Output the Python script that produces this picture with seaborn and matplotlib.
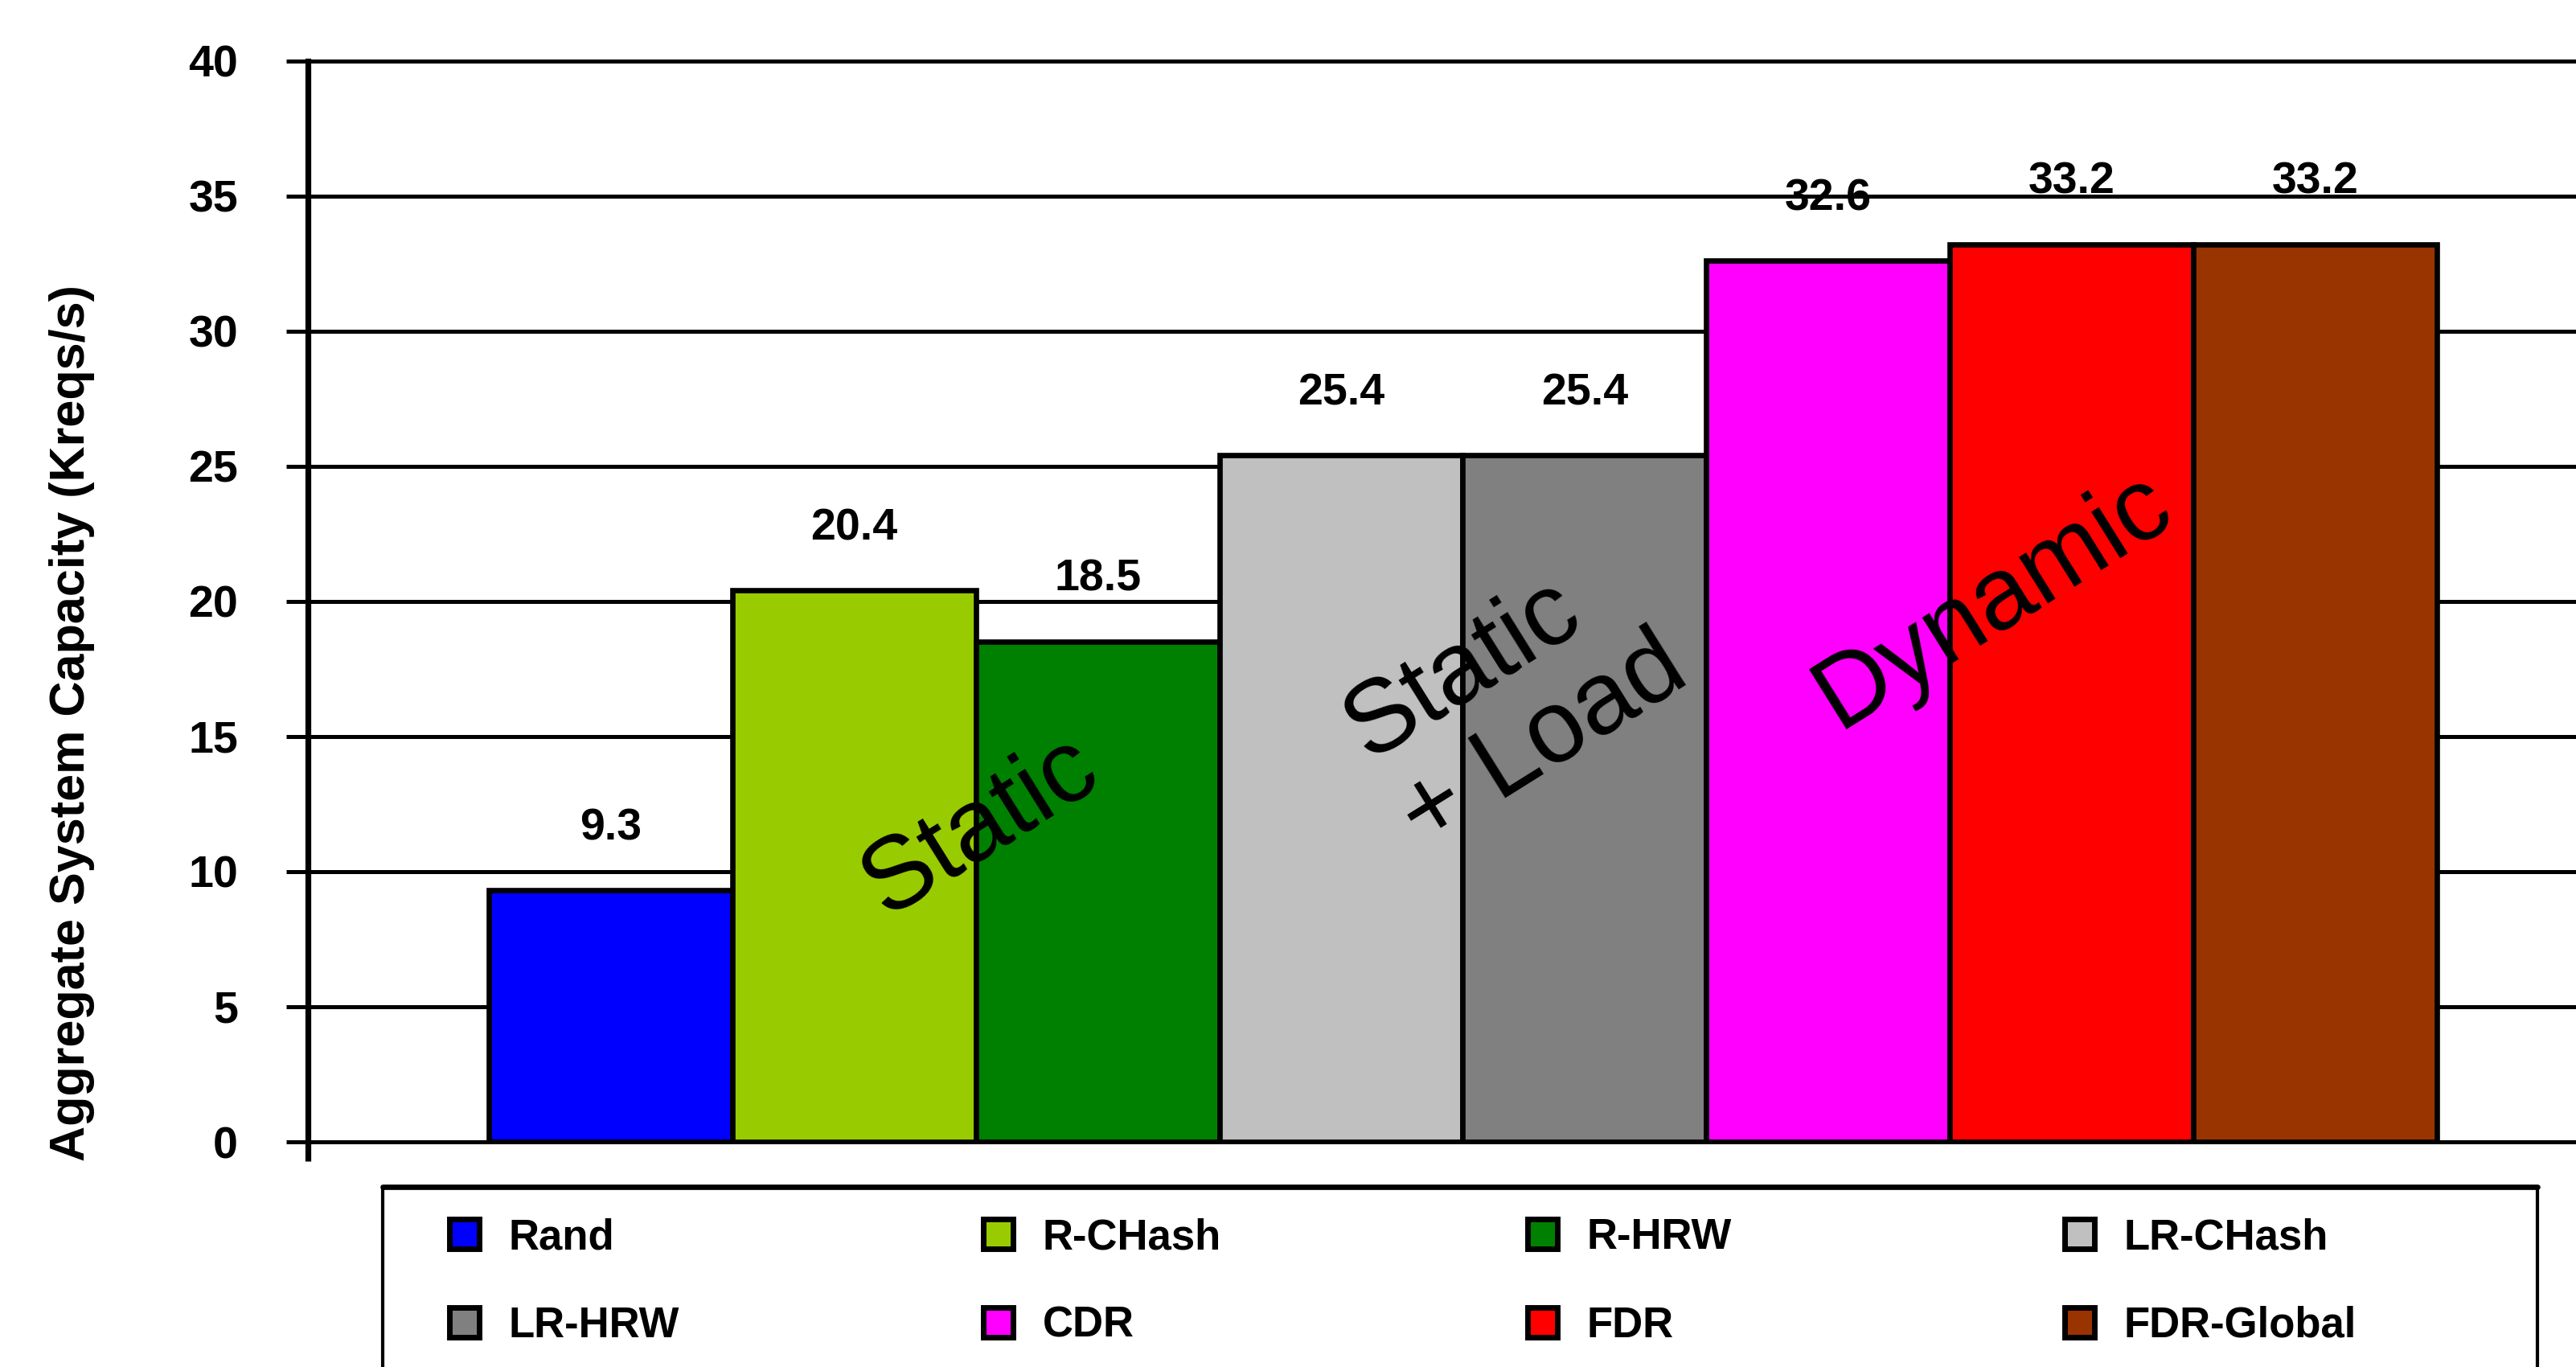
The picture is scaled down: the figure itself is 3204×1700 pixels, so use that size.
import matplotlib
matplotlib.use("Agg")
import matplotlib.pyplot as plt
import matplotlib.patches as mpatches
from matplotlib.lines import Line2D
import seaborn as sns
import pandas as pd

sns.set_theme(style="white")
plt.rcParams['font.family'] = ['Liberation Sans', 'DejaVu Sans']
plt.rcParams['text.color'] = 'black'
plt.rcParams['xtick.color'] = 'black'
plt.rcParams['ytick.color'] = 'black'

# data
methods = ['Rand', 'R-CHash', 'R-HRW', 'LR-CHash', 'LR-HRW', 'CDR', 'FDR', 'FDR-Global']
capacity = [9.3, 20.4, 18.5, 25.4, 25.4, 32.6, 33.2, 33.2]
colors = ['#0000ff', '#99cc00', '#008000', '#c0c0c0', '#808080', '#ff00ff', '#ff0000', '#993300']
y_ticks = [0, 5, 10, 15, 20, 25, 30, 35, 40]
groups = ['Static', 'Static\n+ Load', 'Dynamic']

df = pd.DataFrame({'Method': methods, 'Capacity': capacity})

fig = plt.figure(figsize=(16.02, 8.5), dpi=200)
ax = fig.add_axes([0.1195, 0.1647, 0.8967, 0.7908])

sns.barplot(data=df, x='Method', y='Capacity', hue='Method', palette=colors,
            saturation=1, width=1.0, edgecolor='black', linewidth=2.4,
            legend=False, ax=ax, zorder=3)

ax.set_xlim(-1.243, 8.243)
ax.set_ylim(0, 40)
ax.set_xlabel('')
ax.set_ylabel('')

ax.set_yticks(y_ticks)
ax.set_yticklabels([str(t) for t in y_ticks], fontsize=20, fontweight='bold')
ax.tick_params(axis='y', direction='out', length=9.7, width=1.8, pad=21.6, left=True)
ax.set_xticks([-1.243])
ax.set_xticklabels([''])
ax.tick_params(axis='x', direction='out', length=8.6, width=2.6, bottom=True)

ax.set_axisbelow(True)
ax.grid(axis='y', color='black', linewidth=1.8)
ax.grid(axis='x', visible=False)
for gl in ax.get_ygridlines():
    gl.set_clip_on(False)

for side in ['top', 'right']:
    ax.spines[side].set_visible(False)
ax.spines['left'].set_linewidth(2.6)
ax.spines['left'].set_color('black')
ax.spines['bottom'].set_linewidth(1.8)
ax.spines['bottom'].set_color('black')

# value labels above bars
for i, v in enumerate(capacity):
    ax.text(i, v + 2.3, f'{v:.1f}', ha='center', va='center',
            fontsize=20, fontweight='bold', zorder=5)

# group annotations
group_xy = [(1.52, 11.65), (3.72, 16.4), (5.68, 20.0)]
for g, (gx, gy) in zip(groups, group_xy):
    ax.text(gx, gy, g, rotation=32, rotation_mode='anchor', ha='center', va='center',
            multialignment='left', linespacing=1.1, fontsize=46, zorder=5)

fig.text(0.0278, 0.1506, 'Aggregate System Capacity (Kreqs/s)', rotation=90,
         ha='center', va='bottom', fontsize=22, fontweight='bold')

# legend: 4 columns x 2 rows, row-major order
handles = [mpatches.Patch(facecolor=c, edgecolor='black', linewidth=2.5, label=m)
           for m, c in zip(methods, colors)]
col_x = [0.1745, 0.3817, 0.5930, 0.8015]
for c, x in enumerate(col_x):
    fig.legend(handles=[handles[c], handles[c + 4]], loc='upper left',
               bbox_to_anchor=(x, 0.1092), frameon=False, borderpad=0,
               borderaxespad=0, handlelength=0.7, handleheight=0.7,
               handletextpad=0.7, labelspacing=1.13,
               prop={'size': 19, 'weight': 'bold'})

fig.add_artist(mpatches.Rectangle((0.1486, -0.05), 0.8365, 0.1318 + 0.05,
                                  transform=fig.transFigure, fill=False,
                                  edgecolor='black', linewidth=1.5, clip_on=False))
fig.add_artist(Line2D([0.1486, 0.9851], [0.1318, 0.1318], color='black',
                      linewidth=2.4, transform=fig.transFigure))

fig.savefig('out.png', dpi=200)
